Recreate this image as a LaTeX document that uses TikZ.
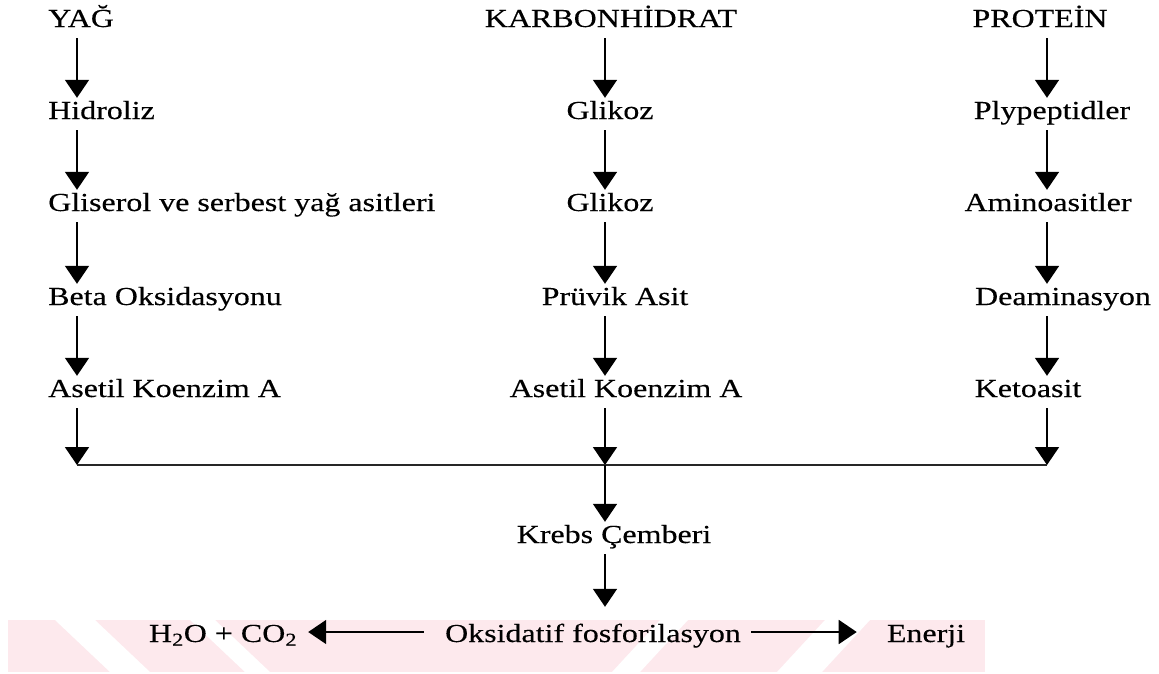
\documentclass[tikz,border=0pt]{standalone}
\usepackage{fontspec}
\setmainfont{Liberation Serif}[FakeStretch=1.23, FakeBold=0.3]
\usetikzlibrary{arrows.meta}
\definecolor{wmpink}{RGB}{253,233,237}
\begin{document}
\begin{tikzpicture}[x=1pt,y=-1pt,
  lbl/.style={inner sep=0pt, text height=21pt, text depth=11pt, anchor=base,
              font=\fontsize{26}{30}\selectfont},
  lblw/.style={lbl, anchor=base west},
  flow/.style={line width=1.8pt, -{Triangle[length=18pt,width=24pt]}},
  rule/.style={line width=1.5pt, black!85}]
\useasboundingbox (0,0) rectangle (1159,673);

% faint striped band behind the last row
\fill[wmpink] (8,620) rectangle (985,672);
\fill[white] (55,620) -- (95,620) -- (150,672) -- (110,672) -- cycle;
\fill[white] (190,620) -- (215,620) -- (270,672) -- (245,672) -- cycle;
\fill[white] (688,620) -- (660,620) -- (612,672) -- (640,672) -- cycle;
\fill[white] (870,620) -- (825,620) -- (777,672) -- (822,672) -- cycle;

% column axes and the collecting line
\coordinate (c1) at (77,0);
\coordinate (c2) at (605,0);
\coordinate (c3) at (1047,0);
\coordinate (jl) at (77,465);
\coordinate (jm) at (605,465);
\coordinate (jr) at (1047,465);

% fats
\node[lblw] (yag)  at (48,27)  {YAĞ};
\node[lblw] (hid)  at (48,119) {Hidroliz};
\node[lblw] (gli)  at (48,211) {Gliserol ve serbest yağ asitleri};
\node[lblw] (beta) at (48,305) {Beta Oksidasyonu};
\node[lblw] (ace1) at (48,397) {Asetil Koenzim A};

% carbohydrates
\node[lbl] (karb) at (611,27)  {KARBONHİDRAT};
\node[lbl] (glk1) at (610,119) {Glikoz};
\node[lbl] (glk2) at (610,211) {Glikoz};
\node[lbl] (pru)  at (615,305) {Prüvik Asit};
\node[lbl] (ace2) at (626,397) {Asetil Koenzim A};

% proteins
\node[lbl] (prot) at (1040,27)  {PROTEİN};
\node[lbl] (poly) at (1052,119) {Plypeptidler};
\node[lbl] (amin) at (1048,211) {Aminoasitler};
\node[lbl] (deam) at (1063,305) {Deaminasyon};
\node[lbl] (keto) at (1028,397) {Ketoasit};

% common pathway
\node[lbl] (krebs) at (614,543) {Krebs Çemberi};
\node[lbl] (oks)   at (593,642) {Oksidatif fosforilasyon};
\node[lbl] (h2o)   at (223,642) {H\textsubscript{2}O + CO\textsubscript{2}};
\node[lbl] (ener)  at (926,642) {Enerji};

% vertical chains
\foreach \a/\b in {yag/hid, hid/gli, gli/beta, beta/ace1}
  \draw[flow] (\a.south -| c1) -- (\b.north -| c1);
\foreach \a/\b in {karb/glk1, glk1/glk2, glk2/pru, pru/ace2}
  \draw[flow] (\a.south -| c2) -- (\b.north -| c2);
\foreach \a/\b in {prot/poly, poly/amin, amin/deam, deam/keto}
  \draw[flow] (\a.south -| c3) -- (\b.north -| c3);

% into the collecting line
\draw[flow] (ace1.south -| c1) -- (jl);
\draw[flow] (ace2.south -| c2) -- (jm);
\draw[flow] (keto.south -| c3) -- (jr);
\draw[rule] (jl) -- (jr);

% Krebs cycle and oxidative phosphorylation
\draw[flow] (jm) -- (krebs.north -| c2);
\draw[flow, shorten >=14pt] (krebs.south -| c2) -- (oks.north -| c2);
\draw[flow, shorten <=21pt, shorten >=11pt]
  ([yshift=10pt]oks.base west) -- ([yshift=10pt]h2o.base east);
\draw[flow, shorten <=10pt, shorten >=30pt]
  ([yshift=10pt]oks.base east) -- ([yshift=10pt]ener.base west);
\end{tikzpicture}
\end{document}
